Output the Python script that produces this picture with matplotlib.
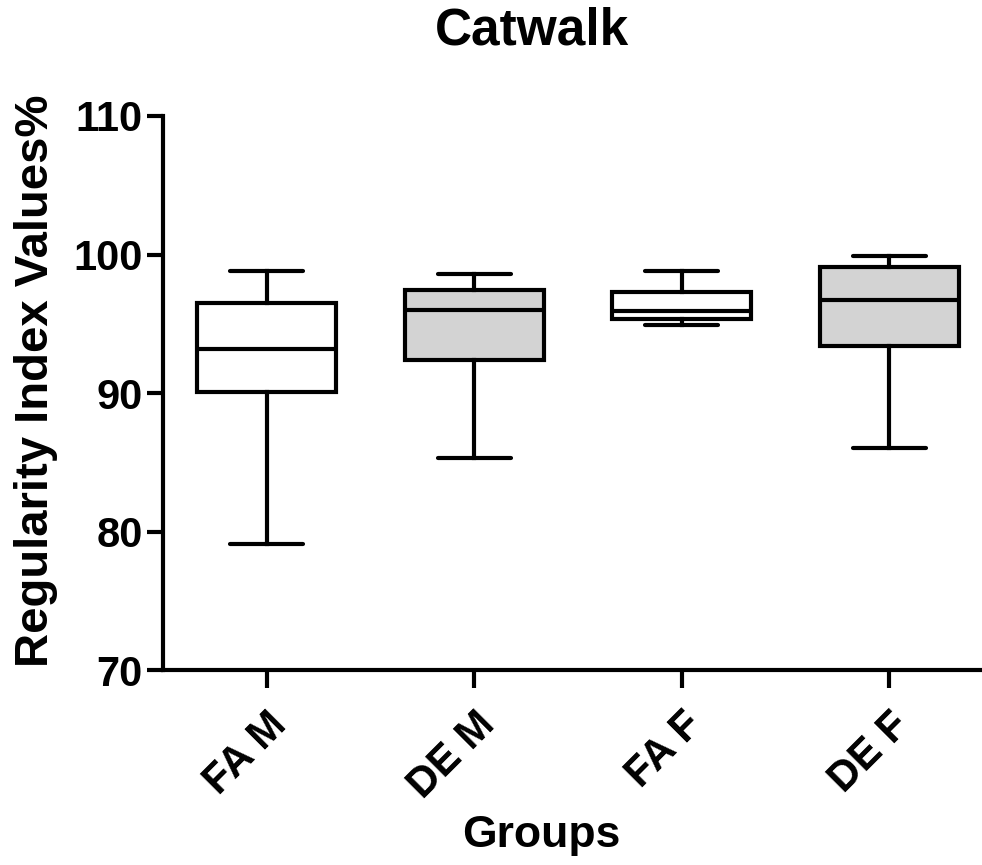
import matplotlib
matplotlib.use("Agg")
import matplotlib.pyplot as plt
import matplotlib.transforms as mtransforms

plt.rcParams['font.family'] = ['Liberation Sans', 'DejaVu Sans']
plt.rcParams['font.weight'] = 'bold'

# Box summary statistics per group (Regularity Index, %)
groups = ["FA M", "DE M", "FA F", "DE F"]
whisker_low = [79.1, 85.3, 94.9, 86.0]
q1 = [90.05, 92.35, 95.35, 93.4]
median = [93.15, 96.0, 95.9, 96.7]
q3 = [96.5, 97.45, 97.3, 99.1]
whisker_high = [98.8, 98.6, 98.8, 99.9]
fills = ["white", "#d3d3d3", "white", "#d3d3d3"]

yticks = [70, 80, 90, 100, 110]

W, H = 982, 865
fig = plt.figure(figsize=(W / 100, H / 100), dpi=100)
ax = fig.add_axes([0.166, 0.2254, 0.834, 0.6405])

stats = []
for i, g in enumerate(groups):
    stats.append(dict(label=g, whislo=whisker_low[i], q1=q1[i], med=median[i],
                      q3=q3[i], whishi=whisker_high[i], fliers=[]))

lw = 3.0
bp = ax.bxp(stats, positions=range(1, len(groups) + 1), widths=0.67,
            patch_artist=True, showfliers=False, capwidths=0.35,
            boxprops=dict(linewidth=lw, edgecolor='black'),
            medianprops=dict(linewidth=lw, color='black'),
            whiskerprops=dict(linewidth=lw, color='black'),
            capprops=dict(linewidth=lw, color='black', solid_capstyle='round'))
for patch, c in zip(bp['boxes'], fills):
    patch.set_facecolor(c)

ax.set_xlim(0.5, 4.447)
ax.set_ylim(70, 110)
ax.set_yticks(yticks)
ax.set_yticklabels([str(t) for t in yticks], fontsize=30, fontweight='bold')
ax.set_xticks(range(1, len(groups) + 1))
ax.set_xticklabels(groups, fontsize=30, fontweight='bold', rotation=45,
                   ha='right', rotation_mode='anchor')
shift = mtransforms.ScaledTranslation(-8 / 100, 0, fig.dpi_scale_trans)
for lbl in ax.get_xticklabels():
    lbl.set_transform(lbl.get_transform() + shift)

for side in ['top', 'right']:
    ax.spines[side].set_visible(False)
for side in ['left', 'bottom']:
    ax.spines[side].set_linewidth(lw)
ax.tick_params(axis='y', length=11.5, width=lw, pad=3)
ax.tick_params(axis='x', length=13, width=lw, pad=12)

fig.text(36 / W, 1 - 381 / H, "Regularity Index Values%", fontsize=34,
         fontweight='bold', rotation=90, ha='center', va='center')
fig.text(541 / W, 1 - 836 / H, "Groups", fontsize=32, fontweight='bold',
         ha='center', va='center')
fig.text(532 / W, 1 - 31 / H, "Catwalk", fontsize=37, fontweight='bold',
         ha='center', va='center')

fig.savefig("out.png", dpi=100, facecolor='white')
